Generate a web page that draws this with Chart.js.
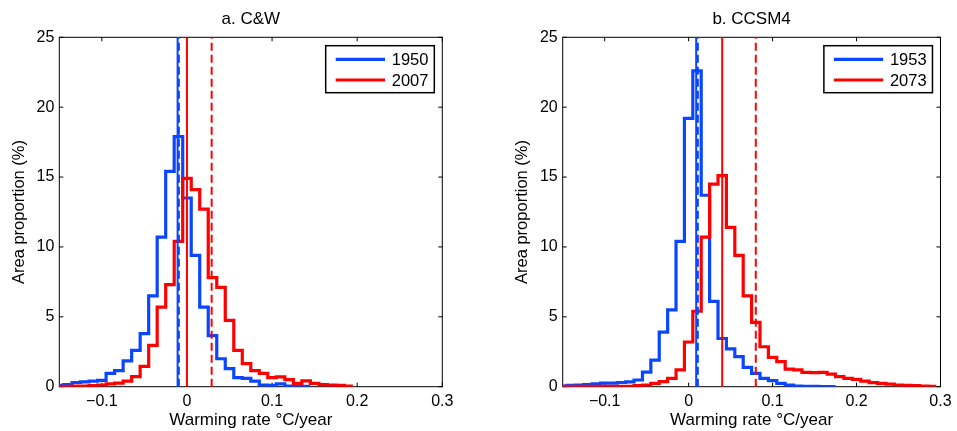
<!DOCTYPE html>
<html>
<head>
<meta charset="utf-8">
<script src="https://cdn.jsdelivr.net/npm/chart.js@4.4.1/dist/chart.umd.min.js"></script>
<style>
  body { margin: 0; background: #fff; }
  canvas { position: absolute; top: 0; }
</style>
</head>
<body>
<canvas id="chartA" width="478" height="431" style="left:0"></canvas>
<canvas id="chartB" width="479" height="431" style="left:478px"></canvas>
<script>
// histogram bins (centres), width 0.01
const binCenters = [-0.15, -0.14, -0.13, -0.12, -0.11, -0.10, -0.09, -0.08, -0.07, -0.06,
  -0.05, -0.04, -0.03, -0.02, -0.01, 0.00, 0.01, 0.02, 0.03, 0.04,
  0.05, 0.06, 0.07, 0.08, 0.09, 0.10, 0.11, 0.12, 0.13, 0.14,
  0.15, 0.16, 0.17, 0.18, 0.19, 0.20, 0.21, 0.22, 0.23, 0.24,
  0.25, 0.26, 0.27, 0.28, 0.29];
const binWidth = 0.01;

// a. C&W
const cwBlue1950 = [0.1, 0.15, 0.3, 0.35, 0.4, 0.45, 0.95, 1.15, 1.85, 2.6,
  3.8, 6.5, 10.7, 15.4, 17.9, 13.5, 9.4, 5.7, 3.65, 2.0,
  1.3, 0.65, 0.6, 0.4, 0.12, 0.1, 0.2, 0.05, 0.03, 0.02,
  null, null, null, null, null, null, null, null, null, null,
  null, null, null, null, null];
const cwRed2007 = [0.03, 0.03, 0.05, 0.05, 0.08, 0.12, 0.2, 0.25, 0.4, 0.72,
  1.45, 2.95, 5.7, 7.3, 10.4, 14.9, 14.1, 12.7, 7.8, 7.1,
  4.75, 2.6, 1.65, 1.15, 0.95, 0.65, 0.7, 0.5, 0.24, 0.42,
  0.24, 0.15, 0.12, 0.1, 0.05, null, null, null, null, null,
  null, null, null, null, null];
// vertical lines: [solid, dashed]
const cwLines1950 = [-0.011, -0.0095];
const cwLines2007 = [0.0, 0.029];

// b. CCSM4
const ccsmBlue1953 = [0.05, 0.1, 0.12, 0.15, 0.2, 0.25, 0.25, 0.3, 0.35, 0.48,
  1.05, 1.9, 3.9, 5.5, 10.4, 19.2, 22.6, 13.7, 6.1, 3.45,
  2.7, 2.15, 1.38, 0.95, 0.6, 0.43, 0.24, 0.12, 0.05, 0.03,
  0.02, 0.01, 0.01, null, null, null, null, null, null, null,
  null, null, null, null, null];
const ccsmRed2073 = [0.02, 0.02, 0.02, 0.02, 0.02, 0.02, 0.02, 0.02, 0.03, 0.07,
  0.12, 0.24, 0.36, 0.6, 1.2, 3.2, 5.4, 10.7, 14.5, 15.1,
  11.4, 9.4, 6.5, 4.6, 2.86, 2.1, 1.8, 1.26, 1.2, 1.03,
  1.0, 1.03, 0.9, 0.72, 0.6, 0.52, 0.4, 0.29, 0.24, 0.19,
  0.12, 0.1, 0.07, 0.05, 0.03];
const ccsmLines1953 = [0.009, 0.011];
const ccsmLines2073 = [0.04, 0.08];

const xTicks = [-0.1, 0, 0.1, 0.2, 0.3];
const yTicks = [0, 5, 10, 15, 20, 25];

const BLUE = '#0a46ff';
const RED = '#ff0000';
const FONT = 'Liberation Sans, Arial, Helvetica, sans-serif';

// turn bin values into points on the bin edges (stepped line)
function stepPoints(vals) {
  let pts = [];
  let last = 0;
  for (let i = 0; i < binCenters.length; i++) {
    if (vals[i] === null) continue;
    pts.push({x: binCenters[i] - binWidth / 2, y: vals[i]});
    last = i;
  }
  pts.push({x: binCenters[last] + binWidth / 2, y: vals[last]});
  return pts;
}

function vline(x, color, dashed) {
  return {
    data: [{x: x, y: 0}, {x: x, y: 25}],
    borderColor: color,
    borderWidth: 2,
    borderDash: dashed ? [8, 4] : [],
    pointRadius: 0,
    order: 0,
    isLegend: false
  };
}

function fmtTick(v) {
  if (Math.abs(v) < 1e-9) return '0';
  return (v < 0 ? '\u2212' : '') + Math.abs(v).toFixed(1);
}

// box, inward ticks and legend like matlab
const matlabAxes = {
  id: 'matlabAxes',
  beforeDatasetsDraw(chart) {
    const ctx = chart.ctx;
    const a = chart.chartArea;
    ctx.save();
    ctx.strokeStyle = '#000';
    ctx.lineWidth = 1;
    ctx.strokeRect(a.left, a.top, a.right - a.left, a.bottom - a.top);
    ctx.beginPath();
    xTicks.forEach(v => {
      const px = chart.scales.x.getPixelForValue(v);
      ctx.moveTo(px, a.bottom); ctx.lineTo(px, a.bottom - 4);
      ctx.moveTo(px, a.top); ctx.lineTo(px, a.top + 4);
    });
    yTicks.forEach(v => {
      const py = chart.scales.y.getPixelForValue(v);
      ctx.moveTo(a.left, py); ctx.lineTo(a.left + 4, py);
      ctx.moveTo(a.right, py); ctx.lineTo(a.right - 4, py);
    });
    ctx.stroke();
    ctx.restore();
  },
  afterDatasetsDraw(chart) {
    const ctx = chart.ctx;
    const a = chart.chartArea;
    const w = 108.6, h = 47;
    const bx = a.right - 8 - w, by = a.top + 8.4;
    ctx.save();
    ctx.fillStyle = '#fff';
    ctx.fillRect(bx, by, w, h);
    ctx.strokeStyle = '#000';
    ctx.lineWidth = 1.5;
    ctx.strokeRect(bx, by, w, h);
    const items = chart.data.datasets.filter(d => d.isLegend);
    items.forEach((d, i) => {
      const y = by + 13.6 + i * 20.7;
      ctx.strokeStyle = d.borderColor;
      ctx.lineWidth = 3.2;
      ctx.beginPath();
      ctx.moveTo(bx + 10, y);
      ctx.lineTo(bx + 59.3, y);
      ctx.stroke();
      ctx.fillStyle = '#000';
      ctx.font = '16.5px ' + FONT;
      ctx.textBaseline = 'middle';
      ctx.textAlign = 'left';
      ctx.fillText(d.label, bx + 66, y + 1);
    });
    ctx.restore();
  }
};

function makeChart(id, title, blueLabel, blueVals, redLabel, redVals, blueLines, redLines, padLeft, padRight) {
  const ctx = document.getElementById(id).getContext('2d');
  return new Chart(ctx, {
    type: 'line',
    data: {
      datasets: [
        vline(blueLines[0], BLUE, false),
        vline(blueLines[1], BLUE, true),
        vline(redLines[0], RED, false),
        vline(redLines[1], RED, true),
        {label: blueLabel, data: stepPoints(blueVals), borderColor: BLUE, borderWidth: 3.2,
          stepped: 'before', pointRadius: 0, order: 2, isLegend: true},
        {label: redLabel, data: stepPoints(redVals), borderColor: RED, borderWidth: 3.2,
          stepped: 'before', pointRadius: 0, order: 1, isLegend: true}
      ]
    },
    options: {
      responsive: false,
      animation: false,
      events: [],
      layout: {padding: {left: padLeft, right: padRight, top: 0, bottom: 0}},
      plugins: {
        legend: {display: false},
        tooltip: {enabled: false},
        title: {
          display: true, text: title, fullSize: false, color: '#000',
          font: {family: FONT, size: 17, weight: 'normal'},
          padding: {top: 9.3, bottom: 7.6}
        }
      },
      scales: {
        x: {
          type: 'linear', min: -0.15, max: 0.3,
          afterBuildTicks: s => { s.ticks = xTicks.map(v => ({value: v})); },
          afterFit: s => { s.height = 44.3; },
          grid: {display: false, drawTicks: false},
          border: {display: false},
          ticks: {padding: 5.4, color: '#000', maxRotation: 0, font: {family: FONT, size: 16}, callback: fmtTick},
          title: {display: true, text: 'Warming rate \u00B0C/year', color: '#000',
            font: {family: FONT, size: 17}, padding: {top: 0, bottom: 0}}
        },
        y: {
          type: 'linear', min: 0, max: 25,
          afterBuildTicks: s => { s.ticks = yTicks.map(v => ({value: v})); },
          afterFit: s => { s.width = 59.3; },
          grid: {display: false, drawTicks: false},
          border: {display: false},
          ticks: {padding: 5, color: '#000', font: {family: FONT, size: 16}},
          title: {display: true, text: 'Area proportion (%)', color: '#000',
            font: {family: FONT, size: 16.5}, padding: {top: 9.1, bottom: 0}}
        }
      }
    },
    plugins: [matlabAxes]
  });
}

makeChart('chartA', 'a. C&W', '1950', cwBlue1950, '2007', cwRed2007, cwLines1950, cwLines2007, 0, 35.7);
makeChart('chartB', 'b. CCSM4', '1953', ccsmBlue1953, '2073', ccsmRed2073, ccsmLines1953, ccsmLines2073, 25.4, 11);
</script>
</body>
</html>
